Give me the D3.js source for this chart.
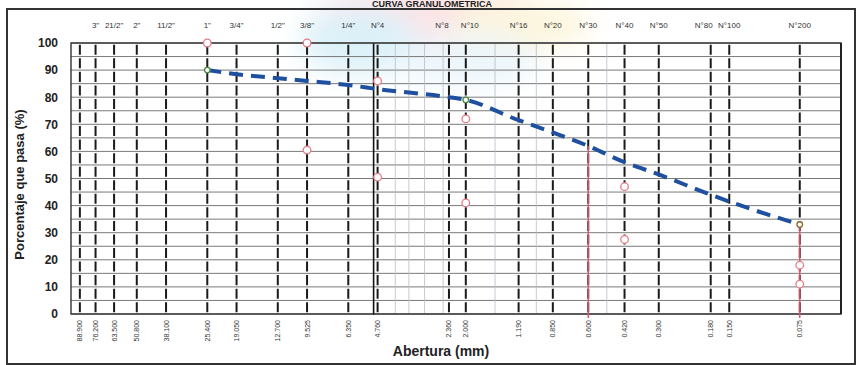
<!DOCTYPE html>
<html><head><meta charset="utf-8">
<script src="https://cdn.jsdelivr.net/npm/d3@7"></script>
<style>html,body{margin:0;padding:0;background:#fff;}svg{display:block;font-family:"Liberation Sans",Arial,sans-serif;}</style>
</head><body>
<svg id="c" width="862" height="365"></svg>
<script>
// ---- data ----
const sieveSizes = [88.9, 76.2, 63.5, 50.8, 38.1, 25.4, 19.05, 12.7, 9.525, 6.35, 4.76, 2.36, 2.0, 1.19, 0.85, 0.6, 0.42, 0.3, 0.18, 0.15, 0.075];
const sizeLabels = ["88.900","76.200","63.500","50.800","38.100","25.400","19.050","12.700","9.525","6.350","4.760","2.360","2.000","1.190","0.850","0.600","0.420","0.300","0.180","0.150","0.075"];
const sieveNames = ["", "3\"", "21/2\"", "2\"", "11/2\"", "1\"", "3/4\"", "1/2\"", "3/8\"", "1/4\"", "N°4", "N°8", "N°10", "N°16", "N°20", "N°30", "N°40", "N°50", "N°80", "N°100", "N°200"];
const minorSizes = [4, 3.5, 3, 2.5, 1.5, 1, 0.5];
const yTicks = [0, 10, 20, 30, 40, 50, 60, 70, 80, 90, 100];
const curveSizes = [25.4, 19.05, 12.7, 9.525, 6.35, 4.76, 2.36, 2.0, 1.19, 0.85, 0.6, 0.42, 0.3, 0.18, 0.15, 0.075];
const curvePass  = [90, 88.5, 87, 86, 84.5, 83, 80, 79, 71.5, 67, 62, 56, 51.5, 44, 41.5, 33];
const upperSizes = [25.4, 9.525, 4.76, 2.0, 0.42, 0.075];
const upperPass  = [100, 100, 86, 72, 47, 18];
const lowerSizes = [9.525, 4.76, 2.0, 0.42, 0.075];
const lowerPass  = [60.5, 50.5, 41, 27.5, 11];
const markSizes = [0.6, 0.075];
const markPass  = [62, 33];
const dotSizes = [25.4, 2.0, 0.075];
const dotPass  = [90, 79, 33];
const dotColors = ["#4a8a3a", "#4a8a3a", "#8a6a2a"];

// ---- drawing ----
const svg = d3.select("#c");
const x = d3.scaleLog().domain([97, 0.05]).range([71, 841]);
const y = d3.scaleLinear().domain([0, 100]).range([314, 43]);

// watermark blobs
const defs = svg.append("defs");
defs.append("filter").attr("id","blur").append("feGaussianBlur").attr("stdDeviation", 14);
const wm = svg.append("g").attr("filter","url(#blur)").attr("opacity",0.4);
wm.append("ellipse").attr("cx",430).attr("cy",10).attr("rx",110).attr("ry",30).attr("fill","#f8b9c0");
wm.append("ellipse").attr("cx",360).attr("cy",40).attr("rx",60).attr("ry",35).attr("fill","#a8dcef");
wm.append("ellipse").attr("cx",520).attr("cy",25).attr("rx",70).attr("ry",25).attr("fill","#f9e7a8");
wm.append("ellipse").attr("cx",470).attr("cy",60).attr("rx",70).attr("ry",25).attr("fill","#cfe8f5");

// title
svg.append("text").attr("x",432).attr("y",7).attr("text-anchor","middle")
  .attr("font-size",9).attr("font-weight","bold").attr("fill","#222").text("CURVA GRANULOMETRICA");

// outer frame
svg.append("rect").attr("x",7).attr("y",9).attr("width",848).attr("height",355)
  .attr("fill","none").attr("stroke","#333").attr("stroke-width",2);

const g = svg.append("g");
// horizontal grid every 5%
g.selectAll("line.h").data(d3.range(0, 101, 5)).join("line")
  .attr("x1", x.range()[0]).attr("x2", x.range()[1])
  .attr("y1", d => y(d)).attr("y2", d => y(d))
  .attr("stroke", "#7a7a7a").attr("stroke-width", 1);

// minor thin vertical lines
g.selectAll("line.m").data(minorSizes).join("line")
  .attr("x1", d => x(d)).attr("x2", d => x(d))
  .attr("y1", y(100)).attr("y2", y(0))
  .attr("stroke", "#b5bcc8").attr("stroke-width", 0.8);

// sieve dashed lines
const per = (y(0) - y(5));
g.selectAll("line.s").data(sieveSizes).join("line")
  .attr("x1", d => x(d)).attr("x2", d => x(d))
  .attr("y1", y(100)).attr("y2", y(0))
  .attr("stroke", "#1a1a1a").attr("stroke-width", 2)
  .attr("stroke-dasharray", `${per*0.74} ${per*0.26}`)
  .attr("stroke-dashoffset", per*0.87);

// solid line near N°4
g.append("line").attr("x1", x(4.76) - 4).attr("x2", x(4.76) - 4)
  .attr("y1", y(100)).attr("y2", y(0) + 1)
  .attr("stroke", "#111").attr("stroke-width", 1.6);

// plot border
g.append("rect").attr("x", x.range()[0]).attr("y", y(100))
  .attr("width", x.range()[1] - x.range()[0]).attr("height", y(0) - y(100))
  .attr("fill", "none").attr("stroke", "#333").attr("stroke-width", 1.4);
g.append("line").attr("x1", x.range()[1]).attr("x2", x.range()[1]).attr("y1", y(100)).attr("y2", y(0))
  .attr("stroke", "#222").attr("stroke-width", 2);

// y tick labels
svg.selectAll("text.yt").data(yTicks).join("text")
  .attr("x", 58).attr("y", d => y(d)).attr("dy", "0.36em").attr("text-anchor", "end")
  .attr("font-size", 12).attr("font-weight", "bold").attr("fill", "#222").text(d => d);

// y axis title
svg.append("text").attr("transform", `translate(24,${(y(0)+y(100))/2 + 6}) rotate(-90)`)
  .attr("text-anchor", "middle").attr("font-size", 13).attr("font-weight", "bold").attr("fill", "#222")
  .text("Porcentaje que pasa (%)");

// top sieve names
svg.selectAll("text.tn").data(sieveSizes).join("text")
  .attr("x", (d, i) => x(d) + (sieveNames[i] === "N°8" || sieveNames[i] === "N°80" ? -7 : (sieveNames[i] === "N°10" ? 4 : 0)))
  .attr("y", 28).attr("text-anchor", "middle")
  .attr("font-size", 8).attr("fill", "#333").text((d, i) => sieveNames[i]);

// bottom size labels (rotated)
svg.selectAll("text.bl").data(sieveSizes).join("text")
  .attr("transform", d => `translate(${x(d)},320) rotate(-90)`)
  .attr("dy", "0.35em").attr("text-anchor", "end")
  .attr("font-size", 7).attr("fill", "#333").text((d, i) => sizeLabels[i]);

// x axis title
svg.append("text").attr("x", 441).attr("y", 356).attr("text-anchor", "middle")
  .attr("font-size", 14).attr("font-weight", "bold").attr("fill", "#222").text("Abertura (mm)");

// red vertical markers
g.selectAll("line.r").data(markSizes).join("line")
  .attr("x1", d => x(d)).attr("x2", d => x(d))
  .attr("y1", (d, i) => y(markPass[i])).attr("y2", y(0) + 4)
  .attr("stroke", "#e0506a").attr("stroke-width", 1.4);

// curve
const line = d3.line().x(d => x(d[0])).y(d => y(d[1])).curve(d3.curveMonotoneX);
g.append("path").datum(curveSizes.map((s, i) => [s, curvePass[i]]))
  .attr("d", line).attr("fill", "none").attr("stroke", "#1f4f9f")
  .attr("stroke-width", 4).attr("stroke-dasharray", "14 8");

// spec circles
const spec = upperSizes.map((s, i) => [s, upperPass[i]]).concat(lowerSizes.map((s, i) => [s, lowerPass[i]]));
g.selectAll("circle.sp").data(spec).join("circle")
  .attr("cx", d => x(d[0])).attr("cy", d => y(d[1])).attr("r", 3.8)
  .attr("fill", "#fff").attr("stroke", "#e77b86").attr("stroke-width", 1.3);

// curve dots
g.selectAll("circle.dt").data(dotSizes).join("circle")
  .attr("cx", d => x(d)).attr("cy", (d, i) => y(dotPass[i])).attr("r", 2.8)
  .attr("fill", "#fff").attr("stroke", (d, i) => dotColors[i]).attr("stroke-width", 1.3);
</script>
</body></html>
